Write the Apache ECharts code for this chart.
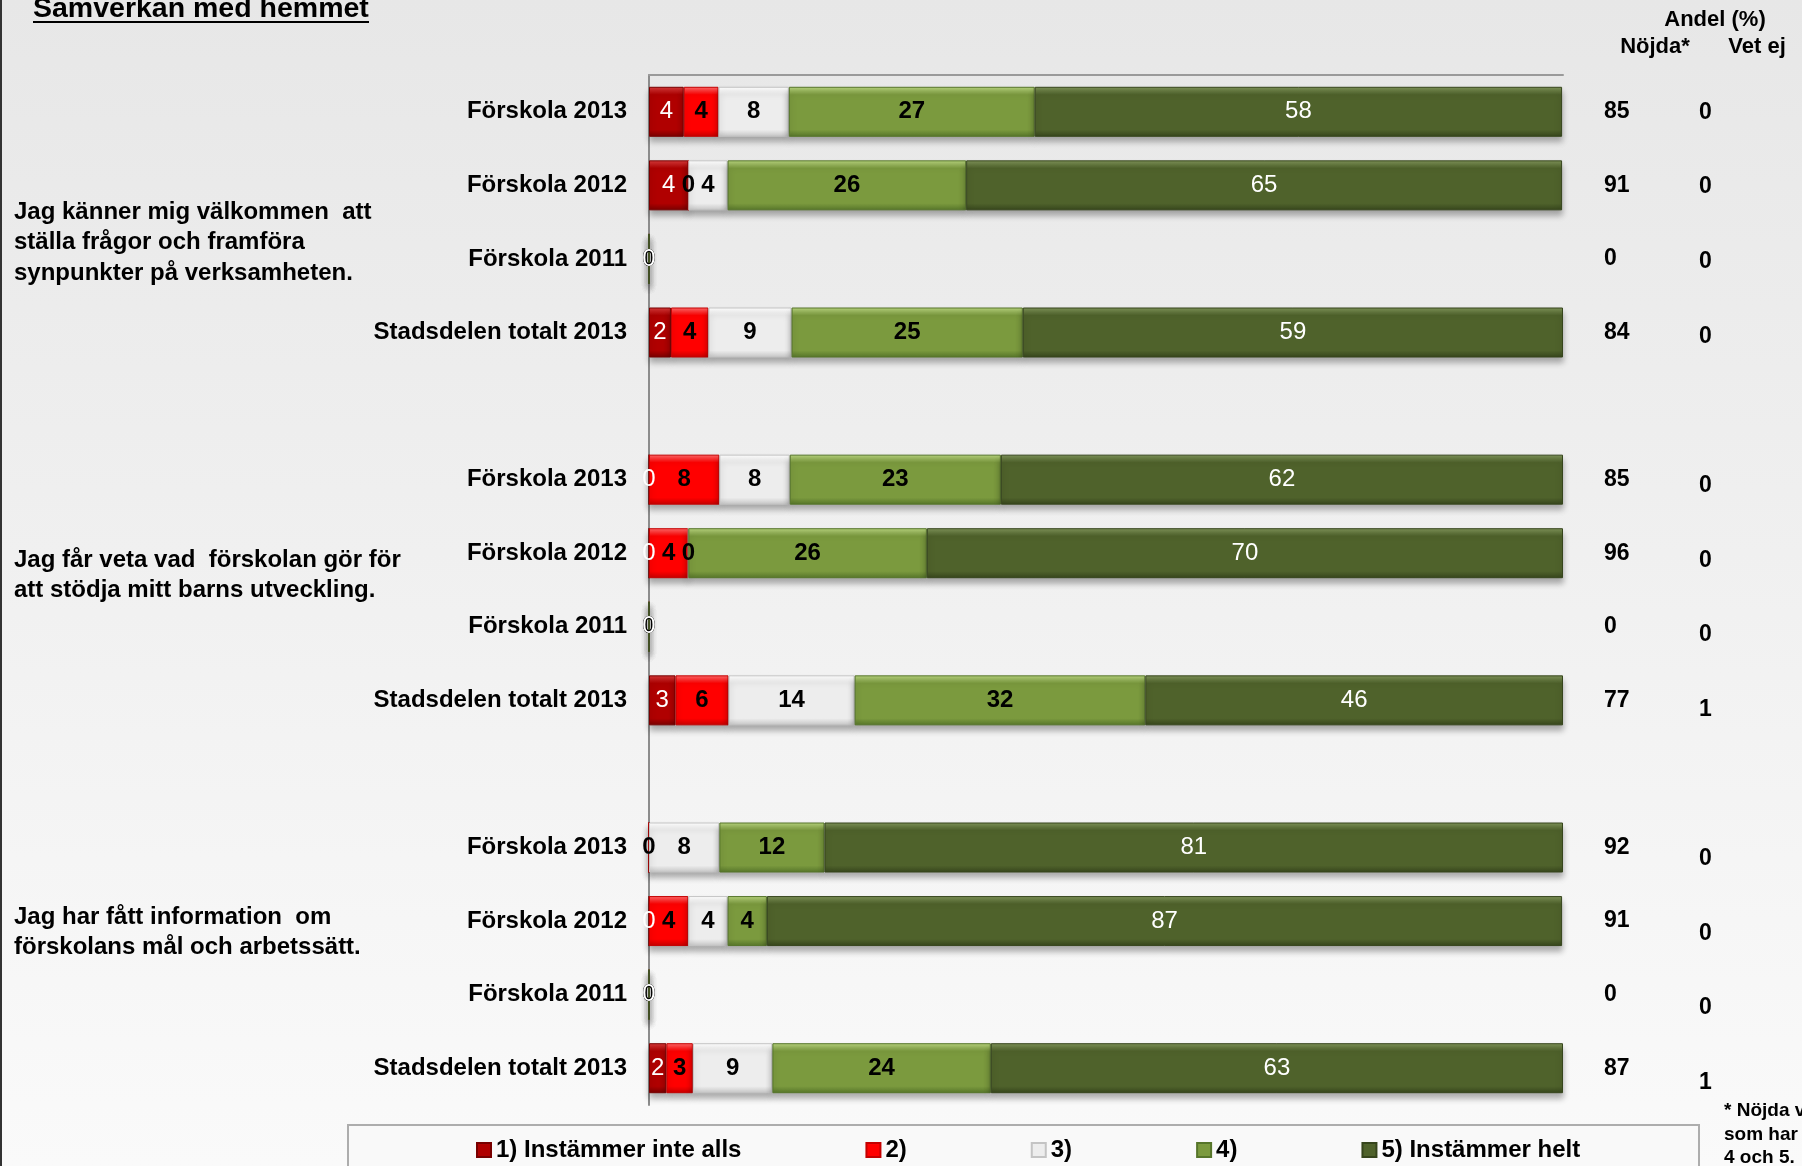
<!DOCTYPE html>
<html>
<head>
<meta charset="utf-8">
<title>Samverkan med hemmet</title>
<script src="https://cdn.jsdelivr.net/npm/echarts@6/dist/echarts.min.js"></script>
<style>
    html, body { margin: 0; padding: 0; }
    #main { width: 1802px; height: 1166px; }
</style>
</head>
<body>
<div id="main"></div>
<script>
// rader uppifrån och ned, tomma rader mellan frågorna
const categories = [
    'Förskola 2013', 'Förskola 2012', 'Förskola 2011', 'Stadsdelen totalt 2013', '',
    'Förskola 2013', 'Förskola 2012', 'Förskola 2011', 'Stadsdelen totalt 2013', '',
    'Förskola 2013', 'Förskola 2012', 'Förskola 2011', 'Stadsdelen totalt 2013'
];
const seriesNames = ['1) Instämmer inte alls', '2)', '3)', '4)', '5) Instämmer helt'];

// andel (%) per svarsalternativ
const answer1 = [3.8, 4.3, 0, 2.4, null, 0, 0, 0, 2.9, null, 0, 0, 0, 1.9];
const answer2 = [3.8, 0, 0, 4.1, null, 7.7, 4.3, 0, 5.8, null, 0, 4.3, 0, 2.9];
const answer3 = [7.7, 4.3, 0, 9.1, null, 7.7, 0, 0, 13.8, null, 7.7, 4.3, 0, 8.7];
const answer4 = [26.9, 26.1, 0, 25.3, null, 23.1, 26.1, 0, 31.8, null, 11.5, 4.3, 0, 23.9];
const answer5 = [57.7, 65.2, 0, 59.1, null, 61.5, 69.6, 0, 45.7, null, 80.8, 87.0, 0, 62.6];

const nojda = ['85', '91', '0', '84', '', '85', '96', '0', '77', '', '92', '91', '0', '87'];
const vetEj = ['0', '0', '0', '0', '', '0', '0', '0', '1', '', '0', '0', '0', '1'];

const questions = [
    ['Jag känner mig välkommen  att', 'ställa frågor och framföra', 'synpunkter på verksamheten.'],
    ['Jag får veta vad  förskolan gör för', 'att stödja mitt barns utveckling.'],
    ['Jag har fått information  om', 'förskolans mål och arbetssätt.']
];
const footnote = ['* Nöjda visar andelen', 'som har svarat', '4 och 5.'];

const FONT = "'Liberation Sans', Arial, sans-serif";

const styles = [
    { light: '#d63a3a', base: '#b00000', dark: '#780000', label: '#fff', weight: 'normal' },
    { light: '#ff6a6a', base: '#ff0000', dark: '#c40000', label: '#000', weight: 'bold' },
    { light: '#ffffff', base: '#ededed', dark: '#c4c4c4', label: '#000', weight: 'bold' },
    { light: '#b8d47e', base: '#7b9a3e', dark: '#56752a', label: '#000', weight: 'bold' },
    { light: '#7f9459', base: '#4f622b', dark: '#36451c', label: '#fff', weight: 'normal' }
];

function bevel(s) {
    return {
        type: 'linear', x: 0, y: 0, x2: 0, y2: 1,
        colorStops: [
            { offset: 0, color: s.light },
            { offset: 0.16, color: s.base },
            { offset: 0.86, color: s.base },
            { offset: 1, color: s.dark }
        ]
    };
}

const values = [answer1, answer2, answer3, answer4, answer5];
const series = values.map(function (data, i) {
    const s = styles[i];
    return {
        name: seriesNames[i],
        type: 'bar',
        stack: 'total',
        barWidth: 50,
        data: data,
        itemStyle: {
            color: bevel(s),
            borderColor: s.dark,
            borderWidth: 1,
            shadowBlur: 6,
            shadowOffsetY: 5,
            shadowColor: 'rgba(0,0,0,0.3)'
        },
        label: {
            show: true,
            position: 'inside',
            color: s.label,
            fontSize: 24,
            fontWeight: s.weight,
            fontFamily: FONT,
            textBorderWidth: 0,
            formatter: function (p) { return p.value == null ? '' : Math.round(p.value); }
        }
    };
});

const textStyleBold = function (size) {
    return { fontSize: size, fontWeight: 'bold', fontFamily: FONT, fill: '#000' };
};

const graphics = [
    { type: 'rect', left: 0, top: 0, shape: { width: 2, height: 1166 }, style: { fill: '#333' } },
    { type: 'rect', z: 0, shape: { x: 348, y: 1125, width: 1351, height: 60 }, style: { fill: '#f9f9f9', stroke: '#adadad', lineWidth: 2 } },
    { type: 'text', style: Object.assign({ text: 'Samverkan med hemmet', x: 33, y: 9, textVerticalAlign: 'middle' }, textStyleBold(28.5)) },
    { type: 'line', shape: { x1: 33, y1: 22, x2: 369, y2: 22 }, style: { stroke: '#000', lineWidth: 2 } },
    { type: 'text', style: Object.assign({ text: 'Andel (%)', x: 1715, y: 20, textAlign: 'center', textVerticalAlign: 'middle' }, textStyleBold(22)) },
    { type: 'text', style: Object.assign({ text: 'Nöjda*', x: 1655, y: 47, textAlign: 'center', textVerticalAlign: 'middle' }, textStyleBold(22)) },
    { type: 'text', style: Object.assign({ text: 'Vet ej', x: 1757, y: 47, textAlign: 'center', textVerticalAlign: 'middle' }, textStyleBold(22)) }
];

// frågetexter till vänster
const questionTop = [212, 560, 917];
questions.forEach(function (lines, q) {
    lines.forEach(function (line, k) {
        graphics.push({
            type: 'text',
            style: Object.assign({ text: line, x: 14, y: questionTop[q] + k * 30.5, textVerticalAlign: 'middle' }, textStyleBold(24))
        });
    });
});
footnote.forEach(function (line, k) {
    graphics.push({
        type: 'text',
        style: Object.assign({ text: line, x: 1724, y: 1111 + k * 23.5, textVerticalAlign: 'middle' }, textStyleBold(19))
    });
});

const option = {
    animation: false,
    backgroundColor: {
        type: 'linear', x: 0, y: 0, x2: 0, y2: 1,
        colorStops: [{ offset: 0, color: '#e7e7e7' }, { offset: 1, color: '#fafafa' }]
    },
    grid: [
        { left: 649, right: 239, top: 75, bottom: 61 },
        { left: 649, right: 239, top: 75, bottom: 46 }
    ],
    legend: {
        left: 471,
        top: 1133,
        icon: 'rect',
        itemWidth: 14,
        itemHeight: 14,
        itemGap: 124,
        textStyle: { fontSize: 24, fontWeight: 'bold', fontFamily: FONT, color: '#000' },
        data: seriesNames
    },
    xAxis: [
        {
            type: 'value',
            gridIndex: 0,
            position: 'top',
            min: 0,
            max: 100,
            axisLine: { show: true, lineStyle: { color: '#9a9a9a', width: 2 } },
            axisTick: { show: false },
            axisLabel: { show: false },
            splitLine: { show: false }
        },
        { type: 'value', gridIndex: 1, min: 0, max: 100, show: false }
    ],
    yAxis: [
        {
            type: 'category',
            gridIndex: 0,
            inverse: true,
            data: categories,
            axisLine: { lineStyle: { color: '#8c8c8c', width: 2 } },
            axisTick: { length: 7, lineStyle: { color: '#8c8c8c', width: 2 } },
            axisLabel: { margin: 22, fontSize: 24, fontWeight: 'bold', fontFamily: FONT, color: '#000' }
        },
        {
            type: 'category',
            gridIndex: 0,
            position: 'right',
            inverse: true,
            data: nojda,
            axisLine: { show: false },
            axisTick: { show: false },
            axisLabel: { margin: 41, fontSize: 23, fontWeight: 'bold', fontFamily: FONT, color: '#000' }
        },
        {
            type: 'category',
            gridIndex: 1,
            position: 'right',
            inverse: true,
            data: vetEj,
            axisLine: { show: false },
            axisTick: { show: false },
            axisLabel: { margin: 136, fontSize: 23, fontWeight: 'bold', fontFamily: FONT, color: '#000' }
        }
    ],
    graphic: graphics,
    series: series
};

const chart = echarts.init(document.getElementById('main'));
chart.setOption(option);
window.addEventListener('resize', function () { chart.resize(); });
</script>
</body>
</html>
